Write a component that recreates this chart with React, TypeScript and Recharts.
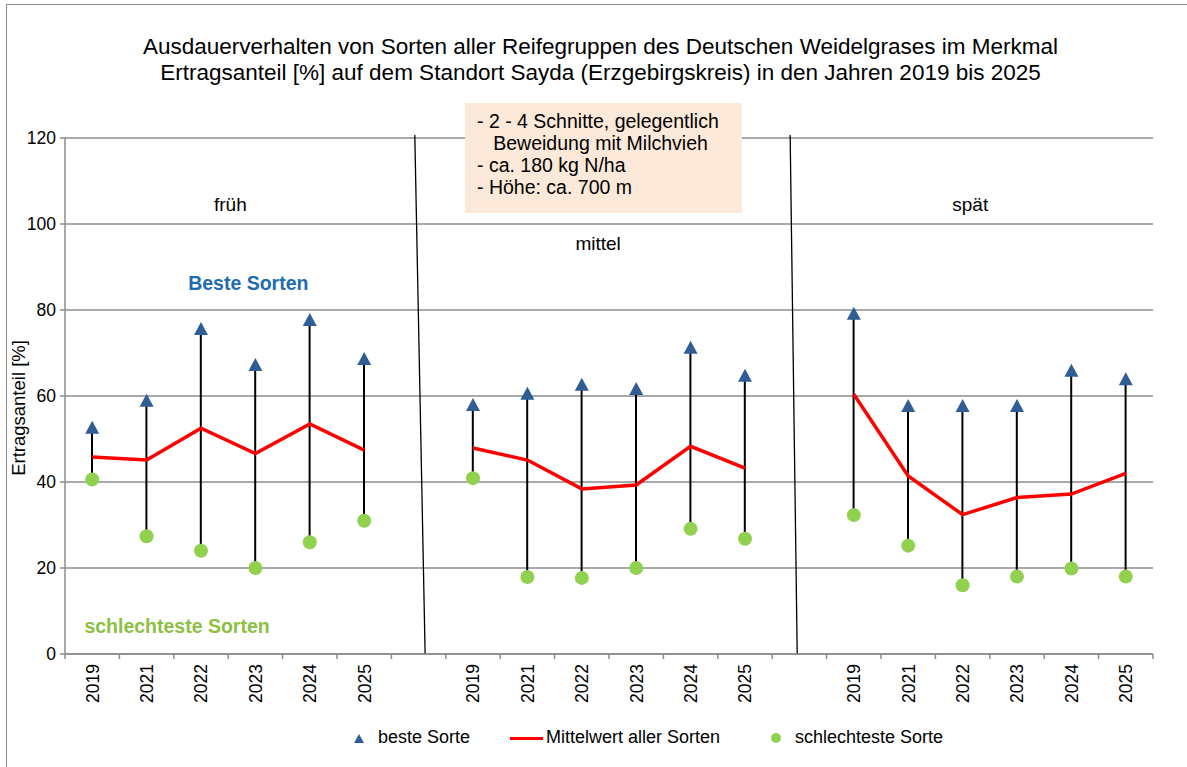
import {
  ComposedChart,
  Bar,
  Line,
  XAxis,
  YAxis,
  CartesianGrid,
  ReferenceLine,
  ReferenceDot,
} from "recharts";

const years = ["2019", "2021", "2022", "2023", "2024", "2025"];
const groups = ["früh", "mittel", "spät"];

const bestFrueh = [52.6, 58.9, 75.6, 67.2, 77.7, 68.6];
const meanFrueh = [45.8, 45.1, 52.5, 46.6, 53.5, 47.4];
const worstFrueh = [40.6, 27.4, 24.0, 20.0, 26.0, 31.0];

const bestMittel = [57.9, 60.5, 62.6, 61.6, 71.2, 64.7];
const meanMittel = [47.9, 45.1, 38.4, 39.3, 48.3, 43.2];
const worstMittel = [40.9, 17.9, 17.7, 20.0, 29.1, 26.8];

const bestSpaet = [79.1, 57.7, 57.7, 57.7, 65.9, 63.9];
const meanSpaet = [60.4, 41.4, 32.4, 36.4, 37.2, 42.0];
const worstSpaet = [32.3, 25.2, 16.0, 18.0, 19.9, 18.0];

const yTicks = [0, 20, 40, 60, 80, 100, 120];

const GRAY = "#8c8c8c";
const BLUE = "#2f5d94";
const RED = "#ff0000";
const GREEN = "#92d050";
const FONT = "'Liberation Sans', Arial, sans-serif";

const W = 1187;
const H = 767;
const M = { top: 138, right: 34, left: 0, bottom: 63 };
const Y_AXIS_W = 65;
const X_AXIS_H = 50;

const series = [
  [bestFrueh, meanFrueh, worstFrueh],
  [bestMittel, meanMittel, worstMittel],
  [bestSpaet, meanSpaet, worstSpaet],
];

const rows: any[] = [];
series.forEach(([best, mean, worst], g) => {
  years.forEach((yr, i) => {
    rows.push({
      key: `${groups[g]}-${yr}`,
      label: yr,
      best: best[i],
      mean: mean[i],
      worst: worst[i],
      range: [worst[i], best[i]],
    });
  });
  if (g < series.length - 1) {
    rows.push({ key: `gap-${g}`, label: "", best: null, mean: null, worst: null, range: null });
  }
});
rows.forEach((r, i) => (r.slot = i + 0.5));

const PLOT_W = W - M.left - M.right - Y_AXIS_W;
const SLOT = PLOT_W / rows.length;

const YearTick = ({ x, y, index }: any) => {
  const last = index === rows.length - 1;
  return (
    <g>
      <line x1={x - SLOT / 2} x2={x - SLOT / 2} y1={y} y2={y + 5} stroke={GRAY} strokeWidth={1.5} />
      {last && <line x1={x + SLOT / 2} x2={x + SLOT / 2} y1={y} y2={y + 5} stroke={GRAY} strokeWidth={1.5} />}
      <text
        x={0}
        y={0}
        dy="0.36em"
        transform={`translate(${x},${y + 10}) rotate(-90)`}
        textAnchor="end"
        fontSize={17.5}
        fill="#000"
        fontFamily={FONT}
      >
        {rows[index]?.label}
      </text>
    </g>
  );
};

const Triangle = ({ cx, cy, value }: any) => {
  if (value == null || cx == null) return <g />;
  return (
    <polygon
      points={`${cx - 7},${cy + 6} ${cx + 7},${cy + 6} ${cx},${cy - 7}`}
      fill={BLUE}
    />
  );
};

const Circle = ({ cx, cy, value }: any) => {
  if (value == null || cx == null) return <g />;
  return <circle cx={cx} cy={cy} r={7} fill={GREEN} />;
};

const txt = (value: string, fill: string, size: number, bold = false) => ({
  value,
  position: "center" as const,
  fill,
  fontSize: size,
  fontWeight: bold ? "bold" : "normal",
  fontFamily: FONT,
});

export default function App() {
  return (
    <div style={{ position: "absolute", left: 0, top: 0, width: W, height: H, background: "#fff", overflow: "hidden", fontFamily: FONT }}>
      <div
        style={{
          position: "absolute",
          left: 6,
          top: 4,
          width: W + 20,
          height: H + 20,
          border: `1.5px solid ${GRAY}`,
        }}
      />
      <div
        style={{
          position: "absolute",
          left: 12,
          width: W - 10,
          top: 34,
          textAlign: "center",
          fontSize: 22.5,
          lineHeight: "26px",
          color: "#000",
        }}
      >
        Ausdauerverhalten von Sorten aller Reifegruppen des Deutschen Weidelgrases im Merkmal
        <br />
        Ertragsanteil [%] auf dem Standort Sayda (Erzgebirgskreis) in den Jahren 2019 bis 2025
      </div>

      <div style={{ position: "absolute", left: 0, top: 0 }}>
        <ComposedChart width={W} height={H} data={rows} margin={M}>
          <CartesianGrid horizontal vertical={false} stroke={GRAY} strokeWidth={1.5} />
          <XAxis
            dataKey="key"
            interval={0}
            height={X_AXIS_H}
            tickLine={false}
            tickSize={0}
            tickMargin={0}
            axisLine={{ stroke: GRAY, strokeWidth: 1.5 }}
            tick={<YearTick />}
          />
          <XAxis
            xAxisId="num"
            dataKey="slot"
            type="number"
            domain={[0, rows.length]}
            allowDataOverflow
            hide
          />
          <YAxis
            domain={[0, 120]}
            ticks={yTicks}
            width={Y_AXIS_W}
            interval={0}
            tickSize={5}
            tickMargin={4}
            axisLine={{ stroke: GRAY, strokeWidth: 1.5 }}
            tickLine={{ stroke: GRAY, strokeWidth: 1.5 }}
            tick={{ fill: "#000", fontSize: 17.5, fontFamily: FONT }}
          />
          <Bar dataKey="range" barSize={2} fill="#000" isAnimationActive={false} />
          <Line
            dataKey="mean"
            stroke={RED}
            strokeWidth={3.5}
            dot={false}
            activeDot={false}
            connectNulls={false}
            isAnimationActive={false}
          />
          <Line dataKey="best" stroke="none" dot={<Triangle />} activeDot={false} isAnimationActive={false} />
          <Line dataKey="worst" stroke="none" dot={<Circle />} activeDot={false} isAnimationActive={false} />

          <ReferenceLine
            xAxisId="num"
            segment={[{ x: 6.43, y: 120.7 }, { x: 6.62, y: 0 }]}
            stroke="#000"
            strokeWidth={1.3}
            ifOverflow="visible"
          />
          <ReferenceLine
            xAxisId="num"
            segment={[{ x: 13.33, y: 120.7 }, { x: 13.46, y: 0 }]}
            stroke="#000"
            strokeWidth={1.3}
            ifOverflow="visible"
          />

          <ReferenceDot xAxisId="num" x={3.04} y={104.5} r={0} fill="none" stroke="none" ifOverflow="visible" label={txt(groups[0], "#000", 19)} />
          <ReferenceDot xAxisId="num" x={9.8} y={95.6} r={0} fill="none" stroke="none" ifOverflow="visible" label={txt(groups[1], "#000", 19)} />
          <ReferenceDot xAxisId="num" x={16.64} y={104.5} r={0} fill="none" stroke="none" ifOverflow="visible" label={txt(groups[2], "#000", 19)} />
          <ReferenceDot xAxisId="num" x={3.37} y={86.3} r={0} fill="none" stroke="none" ifOverflow="visible" label={txt("Beste Sorten", "#1f6bb0", 19.5, true)} />
          <ReferenceDot xAxisId="num" x={2.06} y={6.6} r={0} fill="none" stroke="none" ifOverflow="visible" label={txt("schlechteste Sorten", "#8cc043", 19.5, true)} />
        </ComposedChart>
      </div>

      <div
        style={{
          position: "absolute",
          left: 465,
          top: 103,
          width: 277,
          height: 110,
          background: "#fde9d9",
          fontSize: 19.5,
          lineHeight: "22px",
          color: "#000",
          padding: "7px 0 0 12px",
          boxSizing: "border-box",
          whiteSpace: "pre",
        }}
      >
        {"- 2 - 4 Schnitte, gelegentlich\n   Beweidung mit Milchvieh\n- ca. 180 kg N/ha\n- Höhe: ca. 700 m"}
      </div>

      <div
        style={{
          position: "absolute",
          left: 8,
          top: 348,
          width: 22,
          height: 120,
        }}
      >
        <div
          style={{
            position: "absolute",
            left: 11,
            top: 60,
            transform: "translate(-50%, -50%) rotate(-90deg)",
            whiteSpace: "nowrap",
            fontSize: 18.5,
            color: "#000",
          }}
        >
          Ertragsanteil [%]
        </div>
      </div>

      <div style={{ position: "absolute", top: 727, left: 0, width: W, height: 24, fontSize: 18, color: "#000" }}>
        <svg style={{ position: "absolute", left: 353, top: 6 }} width={12} height={12}>
          <polygon points="1,10 11,10 6,1" fill={BLUE} />
        </svg>
        <span style={{ position: "absolute", left: 378, top: 0 }}>beste Sorte</span>
        <div style={{ position: "absolute", left: 510, top: 10, width: 33, height: 3, background: RED }} />
        <span style={{ position: "absolute", left: 546, top: 0 }}>Mittelwert aller Sorten</span>
        <svg style={{ position: "absolute", left: 770, top: 5 }} width={12} height={12}>
          <circle cx={6} cy={6} r={5} fill={GREEN} />
        </svg>
        <span style={{ position: "absolute", left: 795, top: 0 }}>schlechteste Sorte</span>
      </div>
    </div>
  );
}
